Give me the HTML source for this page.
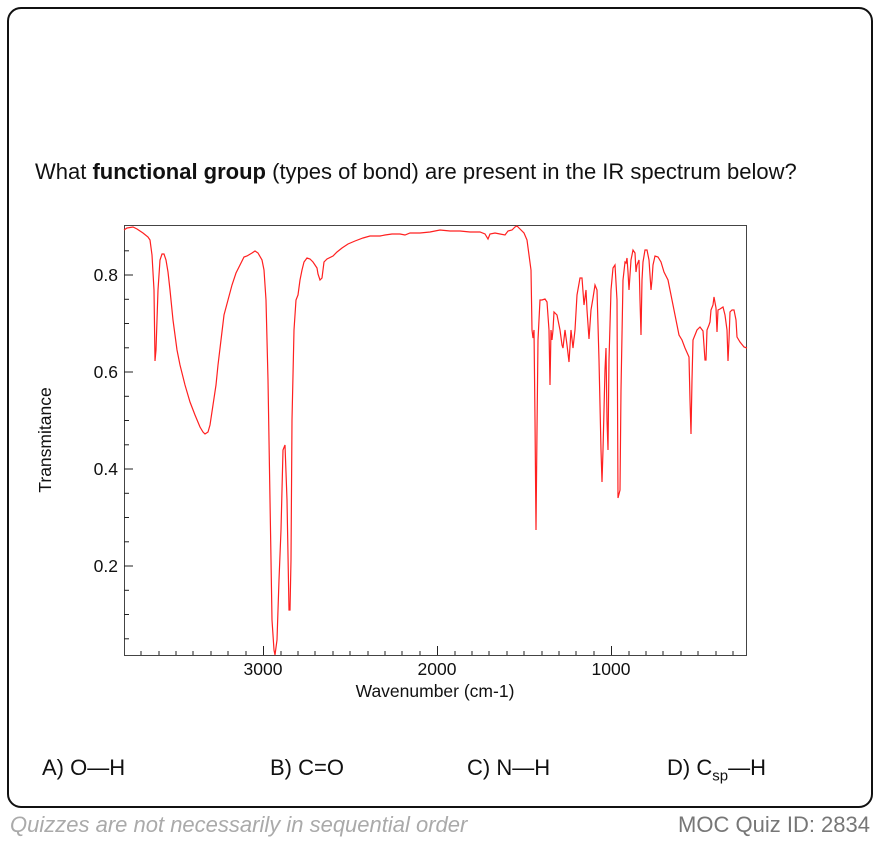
<!DOCTYPE html>
<html><head><style>
body{margin:0;width:878px;height:842px;background:#fff;font-family:"Liberation Sans",Arial,sans-serif;position:relative;overflow:hidden}
.card{position:absolute;left:7px;top:7px;width:866px;height:801px;border:2.5px solid #111;border-radius:14px;box-sizing:border-box}
.q{position:absolute;left:35px;top:159px;font-size:22px;color:#111;white-space:nowrap}
.a{position:absolute;top:755px;font-size:22px;color:#111;white-space:nowrap}
.f1{position:absolute;left:10px;top:812px;font-size:22px;color:#aaa;font-style:italic;white-space:nowrap}
.f2{position:absolute;right:8px;top:812px;font-size:22px;color:#777;white-space:nowrap}
</style></head><body>
<div class="card"></div>
<div class="q">What <b>functional group</b> (types of bond) are present in the IR spectrum below?</div>
<svg style="position:absolute;left:0;top:0" width="878" height="842">
<rect x="124.5" y="225.5" width="622" height="430" fill="none" stroke="#444" stroke-width="1"/>
<g stroke="#222" stroke-width="1">
<line x1="124" y1="250.8" x2="129" y2="250.8"/><line x1="124" y1="275" x2="133" y2="275"/>
<line x1="124" y1="299.3" x2="129" y2="299.3"/><line x1="124" y1="323.5" x2="129" y2="323.5"/>
<line x1="124" y1="347.8" x2="129" y2="347.8"/><line x1="124" y1="372" x2="133" y2="372"/>
<line x1="124" y1="396.3" x2="129" y2="396.3"/><line x1="124" y1="420.5" x2="129" y2="420.5"/>
<line x1="124" y1="444.8" x2="129" y2="444.8"/><line x1="124" y1="469" x2="133" y2="469"/>
<line x1="124" y1="493.3" x2="129" y2="493.3"/><line x1="124" y1="517.5" x2="129" y2="517.5"/>
<line x1="124" y1="541.8" x2="129" y2="541.8"/><line x1="124" y1="566" x2="133" y2="566"/>
<line x1="124" y1="590.3" x2="129" y2="590.3"/><line x1="124" y1="614.5" x2="129" y2="614.5"/>
<line x1="124" y1="638.8" x2="129" y2="638.8"/>
</g>
<g stroke="#222" stroke-width="1">
<line x1="141" y1="655" x2="141" y2="651"/><line x1="159" y1="655" x2="159" y2="651"/><line x1="176" y1="655" x2="176" y2="651"/><line x1="193" y1="655" x2="193" y2="651"/><line x1="211" y1="655" x2="211" y2="651"/><line x1="228" y1="655" x2="228" y2="651"/><line x1="246" y1="655" x2="246" y2="651"/><line x1="263.5" y1="655" x2="263.5" y2="646"/><line x1="281" y1="655" x2="281" y2="651"/><line x1="298" y1="655" x2="298" y2="651"/><line x1="315" y1="655" x2="315" y2="651"/><line x1="333" y1="655" x2="333" y2="651"/><line x1="350" y1="655" x2="350" y2="651"/><line x1="368" y1="655" x2="368" y2="651"/><line x1="385" y1="655" x2="385" y2="651"/><line x1="402" y1="655" x2="402" y2="651"/><line x1="420" y1="655" x2="420" y2="651"/><line x1="437.5" y1="655" x2="437.5" y2="646"/><line x1="455" y1="655" x2="455" y2="651"/><line x1="472" y1="655" x2="472" y2="651"/><line x1="489" y1="655" x2="489" y2="651"/><line x1="507" y1="655" x2="507" y2="651"/><line x1="524" y1="655" x2="524" y2="651"/><line x1="542" y1="655" x2="542" y2="651"/><line x1="559" y1="655" x2="559" y2="651"/><line x1="576" y1="655" x2="576" y2="651"/><line x1="594" y1="655" x2="594" y2="651"/><line x1="611.5" y1="655" x2="611.5" y2="646"/><line x1="629" y1="655" x2="629" y2="651"/><line x1="646" y1="655" x2="646" y2="651"/><line x1="663" y1="655" x2="663" y2="651"/><line x1="681" y1="655" x2="681" y2="651"/><line x1="698" y1="655" x2="698" y2="651"/><line x1="716" y1="655" x2="716" y2="651"/><line x1="733" y1="655" x2="733" y2="651"/>
</g>
<g font-size="17.5" fill="#111" font-family="Liberation Sans,sans-serif">
<text x="118" y="281" text-anchor="end">0.8</text>
<text x="118" y="378" text-anchor="end">0.6</text>
<text x="118" y="475" text-anchor="end">0.4</text>
<text x="118" y="572" text-anchor="end">0.2</text>
<text x="263" y="675" text-anchor="middle">3000</text>
<text x="437" y="675" text-anchor="middle">2000</text>
<text x="611" y="675" text-anchor="middle">1000</text>
<text x="435" y="697" text-anchor="middle">Wavenumber (cm-1)</text>
<text transform="translate(51,440) rotate(-90)" text-anchor="middle">Transmitance</text>
</g>
<polyline fill="none" stroke="#ff2020" stroke-width="1.2" points="124,230 127,228 133,227 137,229 143,233 148,237 150,240 152,255 154,290 155,361 156,350 158,290 160,260 162,254 164,254 166,260 168,272 170,290 173,320 177,350 180,365 185,385 190,402 195,415 200,427 203,432 205,434 208,432 210,425 213,405 216,385 218,365 221,340 224,315 228,300 232,285 236,273 240,265 244,257 247,256 252,253 255,251 258,253 262,260 264,270 266,300 268,380 270,500 272,620 274,650 275,655 277,640 279,580 281,530 283,450 285,445 287,500 289,610 290,610 291,560 292,420 294,330 296,300 298,295 300,280 302,270 304,262 307,258 310,259 313,262 315,265 317,268 318,274 320,280 322,278 324,262 327,259 333,256 337,252 342,248 348,244 355,241 363,238 370,236 380,236 385,235 392,234 400,234 405,235 410,233 420,233 430,232 440,230 450,231 460,231 470,232 480,232 485,234 488,239 490,234 495,233 500,234 505,235 508,231 512,230 515,227 517,226 520,229 524,233 527,240 529,255 531,270 532,330 533,338 534,330 535,420 536,530 537,430 538,340 540,300 542,300 545,299 547,302 549,330 550,385 551,330 552,340 553,330 554,312 557,315 560,330 562,345 563,348 565,330 567,345 569,362 571,330 573,348 575,330 577,295 580,278 582,278 584,305 586,290 587,310 589,339 591,310 593,298 595,285 597,290 599,360 601,450 602,482 603,450 604,410 605,370 606,348 607,420 608,450 609,360 611,290 613,268 615,265 617,300 618,498 620,490 621,390 623,280 625,262 626,263 627,258 628,272 629,290 631,260 633,250 635,253 636,272 637,265 639,260 640,300 641,335 642,280 643,262 645,250 647,250 649,260 651,290 652,280 653,265 655,256 658,257 661,262 664,272 668,280 672,300 676,320 679,335 682,340 685,348 689,357 690,400 691,434 692,380 693,340 695,335 697,330 700,327 703,331 705,360 706,360 707,330 709,325 710,322 711,310 713,305 714,297 716,308 717,332 718,310 720,309 723,307 725,315 727,330 728,361 729,340 730,312 732,310 734,310 736,320 737,337 740,342 744,347 747,348"/>
</svg>
<div class="a" style="left:42px">A) O—H</div>
<div class="a" style="left:270px">B) C=O</div>
<div class="a" style="left:467px">C) N—H</div>
<div class="a" style="left:667px">D) C<sub style="font-size:15px">sp</sub>—H</div>
<div class="f1">Quizzes are not necessarily in sequential order</div>
<div class="f2">MOC Quiz ID: 2834</div>
</body></html>
